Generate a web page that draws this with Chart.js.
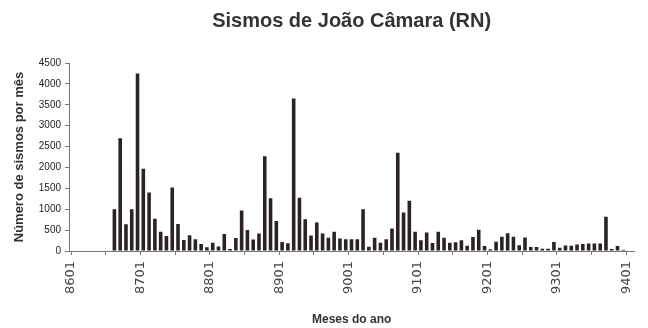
<!DOCTYPE html>
<html>
<head>
<meta charset="utf-8">
<script src="https://cdn.jsdelivr.net/npm/chart.js@4"></script>
<style>
  body { margin: 0; background: #fff; }
  #box { width: 648px; height: 328px; }
</style>
</head>
<body>
<div id="box"><canvas id="sismos"></canvas></div>
<script>
// anos e meses do eixo x (8601 ... 9402)
const anos = [86, 87, 88, 89, 90, 91, 92, 93, 94];
const meses = ['01','02','03','04','05','06','07','08','09','10','11','12'];
// número de sismos por mês, a partir de 8601
const sismos = [
  0, 0, 0, 0, 0, 0, 0, 1000, 2700, 640, 1000, 4250,        // 1986
  1970, 1400, 770, 460, 360, 1520, 645, 265, 375, 280, 170, 90, // 1987
  200, 105, 405, 50, 310, 970, 500, 275, 420, 2270, 1260, 720,  // 1988
  215, 185, 3650, 1275, 760, 370, 680, 420, 320, 460, 300, 280, // 1989
  280, 280, 1000, 100, 320, 200, 280, 540, 2350, 920, 1200, 460, // 1990
  260, 445, 190, 460, 320, 200, 210, 260, 125, 335, 510, 120,   // 1991
  40, 220, 343, 423, 343, 140, 325, 95, 95, 55, 55, 215,        // 1992
  80, 130, 125, 155, 165, 180, 180, 180, 820, 45, 120, 30,      // 1993
  10                                                            // 1994
];
const xTicks = [0, 6, 12, 18, 24, 30, 36, 42, 48, 54, 60, 66, 72, 78, 84, 90, 96];
const yTicks = [0, 500, 1000, 1500, 2000, 2500, 3000, 3500, 4000, 4500];

const labels = [];
anos.forEach(a => meses.forEach(m => labels.push(String(a) + m)));

// cada mês ocupa o intervalo [i, i+1] no eixo; a marca do rótulo fica no início do mês
const pontos = sismos.map((v, i) => ({ x: i + 0.5, y: v }));

const eixo = '#777';
const ctx = document.getElementById('sismos').getContext('2d');
new Chart(ctx, {
  type: 'bar',
  data: {
    datasets: [{
      data: pontos,
      backgroundColor: '#2b2225',
      barPercentage: 0.62,
      categoryPercentage: 1
    }]
  },
  options: {
    responsive: true,
    maintainAspectRatio: false,
    animation: false,
    layout: { padding: { left: 0, right: 12, top: 0, bottom: 0 } },
    plugins: {
      legend: { display: false },
      tooltip: { enabled: false },
      title: {
        display: true,
        fullSize: false,
        text: 'Sismos de João Câmara (RN)',
        color: '#333',
        font: { family: 'Liberation Sans', size: 20, weight: 'bold' },
        padding: { top: 9, bottom: 30 }
      }
    },
    scales: {
      x: {
        type: 'linear',
        offset: false,
        min: -0.35,
        max: 97.4,
        afterFit: s => { s.height = 77; },
        afterBuildTicks: s => { s.ticks = xTicks.map(v => ({ value: v })); },
        border: { color: eixo },
        grid: { offset: false, drawOnChartArea: false, tickLength: 4, color: eixo },
        ticks: {
          autoSkip: false,
          minRotation: 90,
          maxRotation: 90,
          padding: 6,
          color: '#444',
          font: { family: 'DejaVu Sans', size: 13 },
          callback: v => (v % 12 === 0 ? labels[v] : '')
        },
        title: {
          display: true,
          text: 'Meses do ano',
          color: '#333',
          font: { family: 'Liberation Sans', size: 12, weight: 'bold' },
          padding: { top: 0, bottom: 1 }
        }
      },
      y: {
        min: 0,
        max: 4500,
        afterFit: s => { s.width = 69; },
        afterBuildTicks: s => { s.ticks = yTicks.map(v => ({ value: v })); },
        border: { color: eixo },
        grid: { drawOnChartArea: false, tickLength: 4, color: eixo },
        ticks: {
          padding: 4,
          color: '#222',
          font: { family: 'Liberation Sans', size: 10 },
          callback: v => String(v)
        },
        title: {
          display: true,
          text: 'Número de sismos por mês',
          color: '#333',
          font: { family: 'Liberation Sans', size: 13, weight: 'bold' },
          padding: { top: 12, bottom: 4 }
        }
      }
    }
  }
});
</script>
</body>
</html>
